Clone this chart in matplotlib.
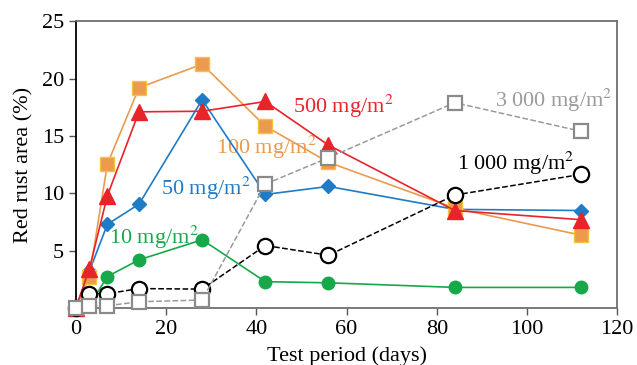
import matplotlib
matplotlib.use('Agg')
import matplotlib.pyplot as plt

plt.rcParams['font.family'] = ['Liberation Serif', 'DejaVu Serif']
plt.rcParams['mathtext.fontset'] = 'stix'

days = [0, 3, 7, 14, 28, 42, 56, 84, 112]
mg10 = [0, 0.2, 2.75, 4.2, 5.95, 2.3, 2.2, 1.8, 1.8]
mg50 = [0, 3.2, 7.3, 9.05, 18.15, 9.9, 10.6, 8.6, 8.5]
mg100 = [0, 2.7, 12.55, 19.2, 21.25, 15.85, 12.7, 8.7, 6.35]
mg500 = [0, 3.4, 9.8, 17.1, 17.15, 18.0, 14.2, 8.5, 7.7]
mg1000 = [0, 1.25, 1.25, 1.7, 1.65, 5.45, 4.6, 9.85, 11.65]
mg3000 = [0, 0.2, 0.2, 0.55, 0.7, 10.8, 13.1, 17.9, 15.4]

fig = plt.figure(figsize=(6.37, 3.65), dpi=100)
ax = fig.add_axes([0.119, 0.156, 0.85, 0.786])

green = '#17a84a'
blue = '#1f7bc6'
orange = '#ec9a4e'
red = '#e8232a'
grey = '#9a9a9a'

ax.plot(days, mg10, color=green, lw=1.2, marker='o', ms=9,
        mfc=green, mec=green, clip_on=False, zorder=3)
ax.plot(days, mg50, color=blue, lw=1.2, marker='D', ms=7,
        mfc=blue, mec=blue, clip_on=False, zorder=4)
ax.plot(days, mg100, color=orange, lw=1.2, marker='s', ms=9.5,
        mfc=orange, mec='#f7c23a', mew=1.0, clip_on=False, zorder=4)
ax.plot(days, mg500, color=red, lw=1.2, marker='^', ms=12,
        mfc=red, mec=red, clip_on=False, zorder=4)
ax.plot(days, mg1000, color='black', ls='--', lw=1.1, marker='o', ms=11,
        mfc='white', mec='black', mew=1.6, clip_on=False, zorder=5)
ax.plot(days, mg3000, color=grey, ls='--', lw=1.1, marker='s', ms=10,
        mfc='white', mec='#8a8a8a', mew=1.6, clip_on=False, zorder=6)

fs = 16
ax.text(48.1, 17.6, '500 mg/m$^2$', color=red, fontsize=fs, va='center')
ax.text(31.0, 14.0, '100 mg/m$^2$', color=orange, fontsize=fs, va='center')
ax.text(18.8, 10.4, '50 mg/m$^2$', color=blue, fontsize=fs, va='center')
ax.text(7.3, 6.2, '10 mg/m$^2$', color=green, fontsize=fs, va='center')
ax.text(92.8, 18.1, '3 000 mg/m$^2$', color=grey, fontsize=fs, va='center')
ax.text(84.5, 12.6, '1 000 mg/m$^2$', color='black', fontsize=fs, va='center')

ax.set_xlim(0, 120)
ax.set_ylim(0, 25)
ax.set_xticks([0, 20, 40, 60, 80, 100, 120])
ax.set_yticks([5, 10, 15, 20, 25])
ax.tick_params(direction='out', length=5, width=1, colors='#555555',
               labelcolor='black', labelsize=16)
for s in ax.spines.values():
    s.set_color('#707070')
    s.set_linewidth(1.3)
ax.spines['left'].set_color('black')
ax.set_xlabel('Test period (days)', fontsize=16, labelpad=5)
ax.set_ylabel('Red rust area (%)', fontsize=16, labelpad=6)

fig.savefig('out.png', dpi=100)
